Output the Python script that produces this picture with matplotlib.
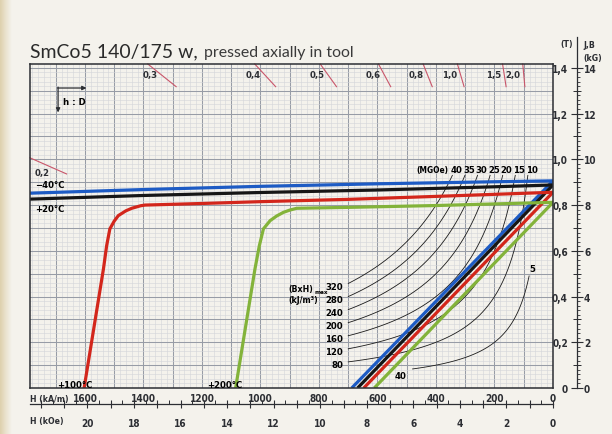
import numpy as np
import matplotlib.pyplot as plt
from matplotlib import font_manager as fm
from matplotlib.colors import LinearSegmentedColormap
from matplotlib.ticker import MultipleLocator, FixedLocator, FuncFormatter

# pick a narrow face for the scale lettering if one is installed
NARROW, STRETCH = 'Liberation Sans', 'normal'
for pref in ['DejaVu Sans', 'Liberation Sans Narrow', 'Noto Sans', 'Roboto Condensed',
             'Open Sans', 'Roboto']:
    hits = [f for f in fm.fontManager.ttflist if f.name == pref and
            (f.stretch in ('condensed', 'semi-condensed', 'extra-condensed')
             or 'Narrow' in f.name or 'Condensed' in f.name)]
    if hits:
        NARROW, STRETCH = pref, hits[0].stretch
        break
plt.rcParams['font.family'] = [NARROW, 'DejaVu Sans']
plt.rcParams['font.weight'] = 'bold'
if STRETCH != 'normal':
    plt.rcParams['font.stretch'] = STRETCH

# --- demagnetisation data, H in kA/m, J/B in T ---
temp_labels = ['\u221240\u00b0C', '+20\u00b0C', '+100\u00b0C', '+200\u00b0C']
curve_colors = ['#1d5bc4', '#161616', '#d3261b', '#83b33a']

# intrinsic J(H) curves
j_h_m40 = [1788, 1400, 1000, 600, 200, 0]
j_b_m40 = [0.852, 0.868, 0.882, 0.893, 0.902, 0.906]
j_h_p20 = [1788, 1400, 1000, 600, 200, 0]
j_b_p20 = [0.826, 0.842, 0.855, 0.866, 0.880, 0.888]
j_h_p100 = [1603, 1570, 1537, 1526, 1515, 1500, 1486, 1460, 1440, 1410, 1395,
            1200, 1000, 700, 400, 200, 0]
j_b_p100 = [0.0, 0.26, 0.52, 0.622, 0.696, 0.730, 0.754, 0.775, 0.786, 0.797, 0.800,
            0.807, 0.815, 0.825, 0.838, 0.847, 0.856]
j_h_p200 = [1085, 1052, 1019, 1004, 990, 967, 945, 922, 900, 876, 700, 400, 200, 0]
j_b_p200 = [0.0, 0.26, 0.52, 0.622, 0.696, 0.732, 0.752, 0.768, 0.778, 0.786,
            0.790, 0.798, 0.805, 0.812]

# normal B(H) lines: remanence Br (T) and coercivity HcB (kA/m)
br = [0.906, 0.888, 0.856, 0.812]
hcb = [688, 668, 647, 611]

# (BH)max iso-energy curves
bh_kj = [40, 80, 120, 160, 200, 240, 280, 320]
bh_mgoe = [5, 10, 15, 20, 25, 30, 35, 40]

# permeance coefficient lines with their h:D labels
pc_values = [0.448, 0.814, 1.106, 1.417, 1.89, 2.54, 3.45, 6.54, 10.9]
pc_labels = ['0,2', '0,3', '0,4', '0,5', '0,6', '0,8', '1,0', '1,5', '2,0']

ka_ticks = [1600, 1400, 1200, 1000, 800, 600, 400, 200, 0]

H_MAX, B_MAX = 1788, 1.417
MU0 = 4e-7 * np.pi * 1e3   # T per kA/m
KOE = 79.577                # kA/m per kOe

W, HP = 612, 435
PAPER = '#f4f2ec'
GRID_MAJ = '#979ca6'
GRID_MIN = '#d3d5d9'
INK = '#2c2e33'
FS = 6.8


def fx(px):
    return px / W


def fy(py):
    return 1 - py / HP


fig = plt.figure(figsize=(6.12, 4.35), dpi=100, facecolor=PAPER)
renderer = fig.canvas.get_renderer()

# scanned page edge on the left
edge = fig.add_axes([0, 0, fx(12), 1])
edge_cmap = LinearSegmentedColormap.from_list('edge', ['#ded0ad', '#ebe3cf', PAPER])
edge.imshow(np.linspace(0, 1, 40)[None, :], cmap=edge_cmap, aspect='auto')
edge.set_axis_off()

ax = fig.add_axes([fx(30), fy(389), fx(553) - fx(30), fy(65) - fy(389)])
ax.set_facecolor(PAPER)
ax.set_xlim(H_MAX, 0)
ax.set_ylim(0, B_MAX)
ax.xaxis.set_major_locator(MultipleLocator(100))
ax.xaxis.set_minor_locator(MultipleLocator(20))
ax.yaxis.set_major_locator(MultipleLocator(0.1))
ax.yaxis.set_minor_locator(MultipleLocator(0.02))
ax.grid(which='minor', color=GRID_MIN, lw=0.4)
ax.grid(which='major', color=GRID_MAJ, lw=0.75)
ax.set_axisbelow(True)
ax.tick_params(which='both', length=0, labelbottom=False, labelleft=False)
for s in ax.spines.values():
    s.set_color(INK)
    s.set_linewidth(1.1)

# load lines through the origin, short pieces at the chart border
for pc, lab in zip(pc_values, pc_labels):
    k = pc * MU0
    h0 = B_MAX / k
    from_left = h0 > H_MAX
    if from_left:
        h0 = H_MAX
    b0 = k * h0
    hs = np.array([h0, h0 * 0.93])
    ax.plot(hs, k * hs, color='#c9566a', lw=0.8, clip_on=False)
    if from_left:
        ax.annotate(lab, (h0, b0), xytext=(5, -15), textcoords='offset pixels',
                    ha='left', va='center', fontsize=FS, color=INK)
    else:
        bl = b0 - 0.044
        ax.annotate(lab, (bl / k, bl), xytext=(-3, 0), textcoords='offset pixels',
                    ha='right', va='center', fontsize=FS, color=INK)

# (BH)max hyperbolas
for c, mg in zip(bh_kj, bh_mgoe):
    if c == 40:
        h_start, b_end = 480, 0.49
    else:
        h_start, b_end = 700, 0.93
    hh = np.linspace(h_start, c / b_end, 80)
    ax.plot(hh, c / hh, color='#1a1a1a', lw=0.6)
    if c == 40:
        ax.annotate(str(c), (h_start, c / h_start), xytext=(-12, -7),
                    textcoords='offset pixels', ha='center', va='center', fontsize=FS)
        ax.annotate(str(mg), (c / b_end, b_end), xytext=(3, 7),
                    textcoords='offset pixels', ha='center', va='center', fontsize=FS)
    else:
        ax.annotate(str(c), (h_start, c / h_start), xytext=(-5, -3),
                    textcoords='offset pixels', ha='right', va='center', fontsize=FS)
        ax.annotate(str(mg), (c / b_end, b_end), xytext=(4, 6),
                    textcoords='offset pixels', ha='center', va='center', fontsize=FS)
ax.annotate('(MGOe)', (320 / 0.93, 0.93), xytext=(-4, 6), textcoords='offset pixels',
            ha='right', va='center', fontsize=6.0)

# (BxH)max caption with a lowered "max" right after it
bxh = ax.text(905, 0.437, '(BxH)', ha='left', va='center', fontsize=6.3)
bxh_box = bxh.get_window_extent(renderer)
ax.annotate('max', (bxh_box.x1, bxh_box.y0), xycoords='figure pixels',
            xytext=(1, 1), textcoords='offset pixels',
            ha='left', va='center', fontsize=4.6)
ax.text(905, 0.385, '(kJ/m\u00b3)', ha='left', va='center', fontsize=6.3)

# temperature curves: J flat part and B straight line
j_h = [j_h_m40, j_h_p20, j_h_p100, j_h_p200]
j_b = [j_b_m40, j_b_p20, j_b_p100, j_b_p200]
for jh, jb, r, hc, col in zip(j_h, j_b, br, hcb, curve_colors):
    ax.plot(jh, jb, color=col, lw=2.3, solid_capstyle='butt', solid_joinstyle='round')
    ax.plot([0, hc], [r, 0], color=col, lw=2.3, solid_capstyle='butt')

ax.text(1771, 0.888, temp_labels[0], ha='left', va='center', fontsize=FS)
ax.text(1771, 0.783, temp_labels[1], ha='left', va='center', fontsize=FS)
ax.text(1696, 0.014, temp_labels[2], ha='left', va='center', fontsize=FS)
ax.text(1183, 0.014, temp_labels[3], ha='left', va='center', fontsize=FS)

# h:D direction marker
ax.annotate('', xy=(1692, 1.205), xytext=(1692, 1.316),
            arrowprops=dict(arrowstyle='-|>', lw=0.9, color=INK, mutation_scale=6,
                            shrinkA=0, shrinkB=0))
ax.annotate('', xy=(1595, 1.312), xytext=(1694, 1.312),
            arrowprops=dict(arrowstyle='-|>', lw=0.9, color=INK, mutation_scale=6,
                            shrinkA=0, shrinkB=0))
ax.text(1675, 1.255, 'h : D', ha='left', va='center', fontsize=FS)

# kA/m labels under the chart
for h in ka_ticks:
    ax.text(h, -0.031, str(h), transform=ax.get_xaxis_transform(),
            ha='center', va='center', fontsize=7.2, color=INK)
ax.text(0, -0.031, 'H (kA/m)', transform=ax.transAxes, ha='left', va='center',
        fontsize=6.2, color=INK)

# kOe scale
axk = fig.add_axes([fx(30), fy(405), fx(553) - fx(30), 0.0001])
axk.set_facecolor('none')
axk.set_xlim(H_MAX / KOE, 0)
for s in ['top', 'left', 'right']:
    axk.spines[s].set_visible(False)
axk.spines['bottom'].set_color(INK)
axk.spines['bottom'].set_linewidth(0.9)
axk.set_yticks([])
axk.xaxis.set_major_locator(MultipleLocator(1))
axk.xaxis.set_minor_locator(MultipleLocator(0.5))
axk.xaxis.set_major_formatter(FuncFormatter(
    lambda v, p: f'{v:.0f}' if round(v) % 2 == 0 and v <= 20.5 else ''))
axk.tick_params(which='major', direction='inout', length=6, width=0.8, color=INK,
                pad=7, labelsize=7.2, labelcolor=INK)
axk.tick_params(which='minor', direction='in', length=3, width=0.7, color=INK)
fig.text(fx(30), fy(422), 'H (kOe)', ha='left', va='center', fontsize=6.2, color=INK)

# J,B scale on the right, tesla and kilogauss
top_b = (389 - 38) / (389 - 65) * B_MAX
axr = fig.add_axes([fx(577), fy(389), 0.0001, fy(38) - fy(389)])
axr.set_facecolor('none')
axr.set_ylim(0, top_b)
for s in ['top', 'bottom', 'right']:
    axr.spines[s].set_visible(False)
axr.spines['left'].set_color(INK)
axr.spines['left'].set_linewidth(0.9)
axr.set_xticks([])
axr.yaxis.set_major_locator(FixedLocator(np.arange(0, 1.41, 0.2)))
axr.yaxis.set_minor_locator(FixedLocator(np.arange(0.1, 1.4, 0.2)))
axr.yaxis.set_major_formatter(FuncFormatter(
    lambda v, p: '0' if abs(v) < 1e-9 else f'{v:.1f}'.replace('.', ',')))
axr.tick_params(which='major', direction='inout', length=9, width=0.8, color=INK,
                pad=2, labelsize=7.2, labelcolor=INK)
axr.tick_params(which='minor', direction='inout', length=6, width=0.7, color=INK)

axg = axr.twinx()
axg.set_ylim(0, top_b * 10)
for s in ['top', 'bottom', 'left', 'right']:
    axg.spines[s].set_visible(False)
axg.yaxis.set_major_locator(FixedLocator(np.arange(0, 14.1, 2)))
axg.yaxis.set_minor_locator(FixedLocator(np.arange(0, 14.01, 0.2)))
axg.tick_params(which='major', length=0, pad=5, labelsize=7.2, labelcolor=INK)
axg.tick_params(which='minor', direction='out', length=2.5, width=0.6, color=INK)

fig.text(fx(567), fy(45), '(T)', ha='center', va='center', fontsize=6.2, color=INK)
fig.text(fx(583), fy(45), 'J,B', ha='left', va='center', fontsize=6.2, color=INK)
fig.text(fx(583), fy(58), '(kG)', ha='left', va='center', fontsize=6.2, color=INK)

# heading, sized to its printed width
head_font = ['Lato', 'Liberation Sans', 'DejaVu Sans']
t1 = fig.text(fx(30), fy(57), 'SmCo5 140/175 w,', ha='left', va='baseline',
              fontsize=16, family=head_font, stretch='normal', weight='normal',
              color='#2a2a2a')
t2 = fig.text(fx(204), fy(57), 'pressed axially in tool', ha='left', va='baseline',
              fontsize=12.5, family=head_font, stretch='normal', weight='normal',
              color='#3a3a3a')
t1.set_fontsize(16 * 167 / t1.get_window_extent(renderer).width)
t2.set_fontsize(12.5 * 150 / t2.get_window_extent(renderer).width)

fig.savefig('out.png', dpi=100, facecolor=PAPER)
